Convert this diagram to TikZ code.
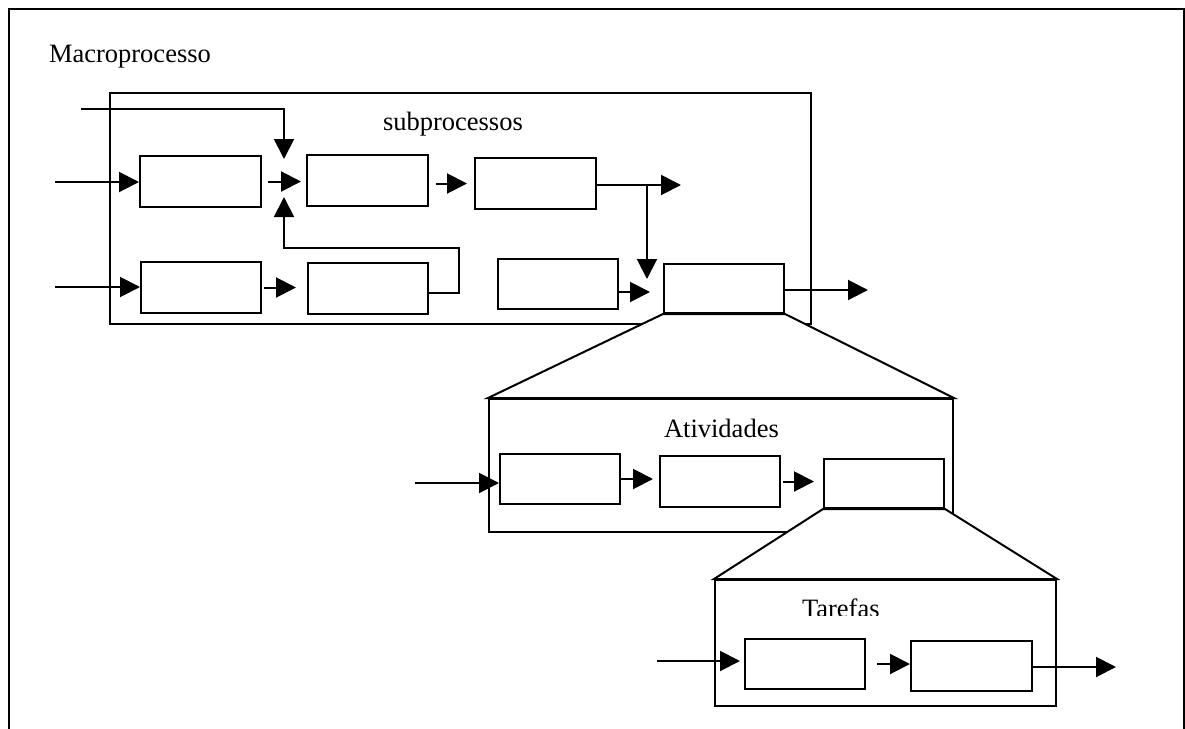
\documentclass[tikz,border=0pt]{standalone}
\usepackage{fontspec}
\setmainfont{Liberation Serif}
\usetikzlibrary{fit,arrows.meta}
\begin{document}
\begin{tikzpicture}[x=0.5pt,y=-0.5pt,
  line width=1pt,
  procbox/.style={draw, rectangle, inner sep=0pt},
  lbl/.style={anchor=base west, inner sep=0pt, font=\fontsize{13.25pt}{16pt}\selectfont},
  arr/.style={-{Triangle[length=10pt,width=10pt]}},
  zoomfill/.style={fill=white, draw, line join=miter}]
\useasboundingbox (0,0) rectangle (1185,729);

% outer frame, open at the bottom
\draw (9,740) -- (9,9) -- (1184,9) -- (1184,740);
\node[lbl] (macro) at (48,62) {Macroprocesso};

% ---- subprocess level ----
\node[procbox, fit={(110,93) (811,324)}] (S) {};
\node[lbl] (subl) at (382,130) {subprocessos};

\node[procbox, fit={(140,156) (261,207)}] (A) {};
\node[procbox, fit={(307,155) (428,206)}] (B) {};
\node[procbox, fit={(475,158) (596,209)}] (C) {};
\node[procbox, fit={(141,262) (261,313)}] (D) {};
\node[procbox, fit={(308,263) (428,314)}] (E) {};
\node[procbox, fit={(498,259) (618,309)}] (F) {};
\node[procbox, fit={(664,264) (784,313)}] (G) {};

\coordinate (inA) at (55,182);
\coordinate (inD) at (55,287);
\coordinate (tf) at (81,109);
\coordinate (mtop) at (284,159);
\coordinate (fbA) at (459,293);
\coordinate (fbB) at (459,248);
\coordinate (fbtip) at (284,197);
\coordinate (cout) at (681,185);
\coordinate (brs) at (647,185);
\coordinate (brt) at (647,279);
\coordinate (ftip) at (650,292);
\coordinate (gout) at (868,290);

\draw[arr] (inA) -- (inA -| A.west);
\draw[arr] (inD) -- (inD -| D.west);
\draw[arr] (tf) -| (mtop);
\draw[arr, shorten <=3pt, shorten >=2.5pt] (A.east) -- (A.east -| B.west);
\draw[arr, shorten <=1pt, shorten >=5.5pt] (D.east) -- (D.east -| E.west);
\draw[arr] (E.east |- fbA) -- (fbA) -- (fbB) -| (fbtip);
\draw[arr, shorten <=3.5pt, shorten >=3.5pt] (C.west -| B.east) -- (C.west);
\draw[arr] (C.east |- cout) -- (cout);
\draw[arr] (brs) -- (brt);
\draw[arr] (F.east |- ftip) -- (ftip);
\draw[arr] (G.east |- gout) -- (gout);

% ---- activity level ----
\node[procbox, fit={(489,399) (953,532)}] (Atv) {};
\draw[zoomfill] (G.south west) -- (Atv.north west) -- (Atv.north east) -- (G.south east) -- cycle;
\node[lbl] (atvl) at (663,437) {Atividades};

\node[procbox, fit={(500,454) (620,504)}] (H) {};
\node[procbox, fit={(660,456) (780,507)}] (I) {};
\node[procbox, fit={(824,459) (944,508)}] (J) {};

\coordinate (inH) at (415,483);
\draw[arr] (inH) -- (inH -| H.west);
\draw[arr, shorten >=3pt] (H.east) -- (H.east -| I.west);
\draw[arr, shorten <=1pt, shorten >=4.5pt] (I.east) -- (I.east -| J.west);

% ---- task level ----
\node[procbox, fit={(715,580) (1056,706)}] (Tar) {};
\draw[zoomfill] (J.south west) -- (Tar.north west) -- (Tar.north east) -- (J.south east) -- cycle;
\begin{scope}
  \clip (760,585) rectangle (920,615.5);
  \node[lbl] (tarl) at (801,617) {Tarefas};
\end{scope}

\node[procbox, fit={(745,639) (865,689)}] (K) {};
\node[procbox, fit={(911,641) (1032,691)}] (L) {};

\coordinate (inK) at (657,661);
\coordinate (lout) at (1116,667);
\draw[arr, shorten >=2pt] (inK) -- (inK -| K.west);
\draw[arr, shorten <=5.5pt] (K.east) -- (K.east -| L.west);
\draw[arr] (L.east |- lout) -- (lout);
\end{tikzpicture}
\end{document}
